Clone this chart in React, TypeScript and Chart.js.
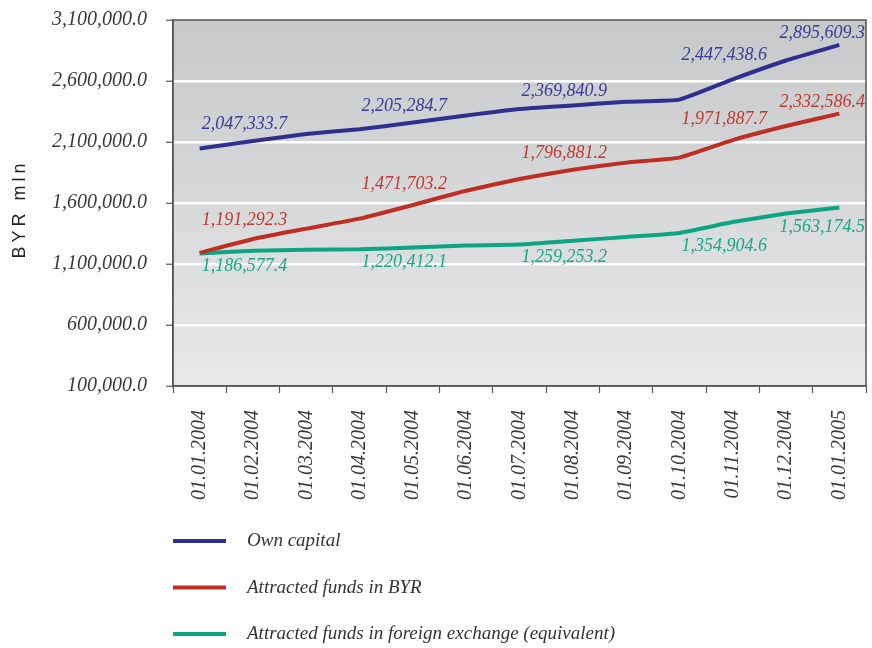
import React, { useEffect, useRef } from 'react';
import { Chart, registerables } from 'chart.js';

Chart.register(...registerables);

const categories = [
  '01.01.2004', '01.02.2004', '01.03.2004', '01.04.2004', '01.05.2004', '01.06.2004',
  '01.07.2004', '01.08.2004', '01.09.2004', '01.10.2004', '01.11.2004', '01.12.2004', '01.01.2005',
];

const seriesNames = [
  'Own capital',
  'Attracted funds in BYR',
  'Attracted funds in foreign exchange (equivalent)',
];

const ownCapital = [
  2047333.7, 2108000, 2166000, 2205284.7, 2259000, 2317000,
  2369840.9, 2399000, 2430000, 2447438.6, 2614000, 2768000, 2895609.3,
];

const fundsBYR = [
  1191292.3, 1305000, 1390000, 1471703.2, 1584000, 1701000,
  1796881.2, 1873000, 1931000, 1971887.7, 2116000, 2231000, 2332586.4,
];

const fundsForeign = [
  1186577.4, 1209000, 1217000, 1220412.1, 1236000, 1252000,
  1259253.2, 1290000, 1322000, 1354904.6, 1444000, 1514000, 1563174.5,
];

const labeledIndices = [0, 3, 6, 9, 12];
const labelSide = ['above', 'above', 'below'];
const lineColors = ['#2e2f8f', '#be2e22', '#0ba585'];
const labelColors = ['#3a3b98', '#c03a2e', '#17a88a'];

const yMin = 100000;
const yMax = 3100000;
const yStep = 500000;

const fmt = (v: number) =>
  v.toLocaleString('en-US', { minimumFractionDigits: 1, maximumFractionDigits: 1 });

const SERIF = '"Liberation Serif", "Times New Roman", serif';

function lineYAt(points: any[], x: number): number {
  if (x <= points[0].x) return points[0].y;
  for (let i = 1; i < points.length; i++) {
    const a = points[i - 1];
    const b = points[i];
    if (x <= b.x) {
      const t = (x - a.x) / (b.x - a.x);
      return a.y + (b.y - a.y) * t;
    }
  }
  return points[points.length - 1].y;
}

const zeroPad = (s: any) => {
  s.paddingTop = 0;
  s.paddingBottom = 0;
  s.paddingLeft = 0;
  s.paddingRight = 0;
};

const decorPlugin = {
  id: 'decor',
  beforeDraw(chart: any) {
    const { ctx, chartArea } = chart;
    if (!chartArea) return;
    const g = ctx.createLinearGradient(0, chartArea.top, 0, chartArea.bottom);
    g.addColorStop(0, '#c7c8ca');
    g.addColorStop(1, '#e8e9ea');
    ctx.save();
    ctx.fillStyle = g;
    ctx.fillRect(chartArea.left, chartArea.top, chartArea.right - chartArea.left, chartArea.bottom - chartArea.top);
    ctx.restore();
  },
  beforeDatasetsDraw(chart: any) {
    const { ctx, chartArea } = chart;
    ctx.save();
    ctx.strokeStyle = '#555';
    ctx.lineWidth = 1.5;
    ctx.strokeRect(chartArea.left, chartArea.top, chartArea.right - chartArea.left, chartArea.bottom - chartArea.top);
    ctx.restore();
  },
  afterDraw(chart: any) {
    const { ctx, chartArea } = chart;
    ctx.save();
    // data labels
    ctx.font = `italic 18px ${SERIF}`;
    ctx.textAlign = 'left';
    chart.data.datasets.forEach((ds: any, i: number) => {
      const meta = chart.getDatasetMeta(i);
      const pts = meta.data.map((p: any) => ({ x: p.x, y: p.y }));
      ctx.fillStyle = labelColors[i];
      labeledIndices.forEach((idx) => {
        const pt = meta.data[idx];
        if (!pt) return;
        const text = fmt(ds.data[idx]);
        const w = ctx.measureText(text).width;
        let x = pt.x + 2;
        if (x + w > chartArea.right - 1) x = chartArea.right - 1 - w;
        let ext = pt.y;
        for (let k = 0; k <= 10; k++) {
          const yy = lineYAt(pts, x + (w * k) / 10);
          ext = labelSide[i] === 'above' ? Math.min(ext, yy) : Math.max(ext, yy);
        }
        if (labelSide[i] === 'above') {
          ctx.textBaseline = 'alphabetic';
          ctx.fillText(text, x, ext - 7);
        } else {
          ctx.textBaseline = 'top';
          ctx.fillText(text, x, ext + 4);
        }
      });
    });

    // y-axis title
    ctx.save();
    ctx.translate(20, (chartArea.top + chartArea.bottom) / 2 + 6);
    ctx.rotate(-Math.PI / 2);
    ctx.font = `18px "Liberation Sans", Arial, sans-serif`;
    (ctx as any).letterSpacing = '4px';
    ctx.fillStyle = '#222';
    ctx.textAlign = 'center';
    ctx.textBaseline = 'middle';
    ctx.fillText('BYR mln', 0, 0);
    ctx.restore();

    // legend
    const legendTop = 541;
    const legendGap = 46.5;
    chart.data.datasets.forEach((ds: any, i: number) => {
      const y = legendTop + i * legendGap;
      ctx.strokeStyle = ds.borderColor;
      ctx.lineWidth = 4;
      ctx.beginPath();
      ctx.moveTo(173, y);
      ctx.lineTo(226, y);
      ctx.stroke();
      ctx.fillStyle = '#333';
      ctx.font = `italic 19px ${SERIF}`;
      ctx.textAlign = 'left';
      ctx.textBaseline = 'middle';
      ctx.fillText(ds.label, 247, y);
    });
    ctx.restore();
  },
};

export default function App() {
  const ref = useRef<HTMLCanvasElement>(null);

  useEffect(() => {
    if (!ref.current) return;
    const seriesData = [ownCapital, fundsBYR, fundsForeign];
    const chart = new Chart(ref.current, {
      type: 'line',
      data: {
        labels: categories,
        datasets: seriesData.map((d, i) => ({
          label: seriesNames[i],
          data: d,
          borderColor: lineColors[i],
          backgroundColor: lineColors[i],
          borderWidth: 4,
          pointRadius: 0,
          tension: 0.12,
          fill: false,
        })),
      },
      options: {
        responsive: false,
        animation: false,
        layout: { padding: { top: 20, right: 6, bottom: 137, left: 0 } },
        plugins: {
          legend: { display: false },
          tooltip: { enabled: false },
        },
        scales: {
          x: {
            type: 'category',
            offset: true,
            afterFit: (s: any) => { s.height = 125; zeroPad(s); },
            grid: {
              offset: true,
              drawOnChartArea: false,
              drawTicks: true,
              tickLength: 7,
              tickColor: '#555',
              tickWidth: 1.2,
            },
            border: { display: true, color: '#555', width: 1.5 },
            ticks: {
              autoSkip: false,
              minRotation: 90,
              maxRotation: 90,
              padding: 17,
              color: '#3a3a3a',
              font: { family: SERIF, size: 20, style: 'italic' },
            },
          },
          y: {
            min: yMin,
            max: yMax,
            afterFit: (s: any) => { s.width = 173; zeroPad(s); },
            ticks: {
              stepSize: yStep,
              padding: 19,
              color: '#3a3a3a',
              font: { family: SERIF, size: 20, style: 'italic' },
              callback: (v: any) => fmt(Number(v)),
            },
            grid: {
              color: (c: any) => (c.tick && (c.tick.value === yMax || c.tick.value === yMin) ? 'rgba(0,0,0,0)' : '#ffffff'),
              lineWidth: 2.5,
              tickLength: 7,
              tickColor: '#555',
              tickWidth: 1.2,
            },
            border: { display: true, color: '#555', width: 1.5 },
          },
        },
      },
      plugins: [decorPlugin],
    });
    return () => chart.destroy();
  }, []);

  return (
    <div style={{ position: 'absolute', left: 0, top: 0, width: 872, height: 648, background: '#fff' }}>
      <canvas ref={ref} width={872} height={648} style={{ display: 'block' }} />
    </div>
  );
}
